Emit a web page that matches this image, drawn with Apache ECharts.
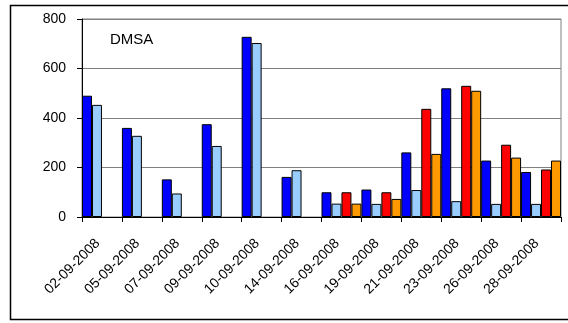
<!DOCTYPE html>
<html>
<head>
<meta charset="utf-8">
<script src="https://cdn.jsdelivr.net/npm/echarts@6/dist/echarts.min.js"></script>
<style>
  html, body { margin: 0; padding: 0; background: #fff; }
  #chart { width: 568px; height: 323px; }
</style>
</head>
<body>
<div id="chart"></div>
<script>
// categories (dates)
const dates = ['02-09-2008', '05-09-2008', '07-09-2008', '09-09-2008', '10-09-2008', '14-09-2008',
  '16-09-2008', '19-09-2008', '21-09-2008', '23-09-2008', '26-09-2008', '28-09-2008'];
// series values
const darkBlue  = [490, 360, 152, 375, 728, 162, 100, 111, 261, 520, 228, 182];
const lightBlue = [453, 328, 95, 287, 703, 189, 54, 53, 109, 64, 53, 53];
const red       = [null, null, null, null, null, null, 100, 100, 437, 530, 292, 192];
const orange    = [null, null, null, null, null, null, 54, 73, 255, 510, 240, 228];
const yTicks = { min: 0, max: 800, step: 200 };

const chart = echarts.init(document.getElementById('chart'));

function barSeries(data, color) {
  return {
    type: 'bar',
    data: data,
    barGap: '0%',
    barCategoryGap: '0%',
    itemStyle: { color: color, borderColor: '#000', borderWidth: 1 },
    emphasis: { disabled: true }
  };
}

chart.setOption({
  animation: false,
  textStyle: { fontFamily: 'Liberation Sans, Arial, sans-serif' },
  graphic: [
    {
      type: 'rect',
      shape: { x: 10.5, y: 5.5, width: 580, height: 314 },
      style: { fill: 'none', stroke: '#000', lineWidth: 1.5 },
      z: 0
    },
    {
      type: 'text',
      left: 110, top: 32,
      style: { text: 'DMSA', font: '15px "Liberation Sans", Arial, sans-serif', fill: '#000' }
    }
  ],
  grid: {
    left: 82, right: 7, top: 19, bottom: 106,
    show: true, borderColor: '#808080', borderWidth: 1
  },
  xAxis: {
    type: 'category',
    data: dates,
    axisLine: { lineStyle: { color: '#000', width: 1 } },
    axisTick: { show: true, length: 5, alignWithLabel: false, lineStyle: { color: '#000' } },
    axisLabel: {
      interval: 0, rotate: 45, margin: 20, padding: [0, 6, 0, 0],
      color: '#000', fontSize: 14, fontFamily: 'Liberation Sans, Arial, sans-serif'
    }
  },
  yAxis: {
    type: 'value',
    min: yTicks.min, max: yTicks.max, interval: yTicks.step,
    axisLine: { show: true, lineStyle: { color: '#000', width: 1 } },
    axisTick: { show: true, length: 5, lineStyle: { color: '#000' } },
    axisLabel: { color: '#000', fontSize: 14, margin: 16, fontFamily: 'Liberation Sans, Arial, sans-serif' },
    splitLine: { show: true, lineStyle: { color: '#808080', width: 1 } }
  },
  series: [
    barSeries(darkBlue, '#0000FF'),
    barSeries(lightBlue, '#99CCFF'),
    barSeries(red, '#FF0000'),
    barSeries(orange, '#FF9900')
  ]
});
</script>
</body>
</html>
